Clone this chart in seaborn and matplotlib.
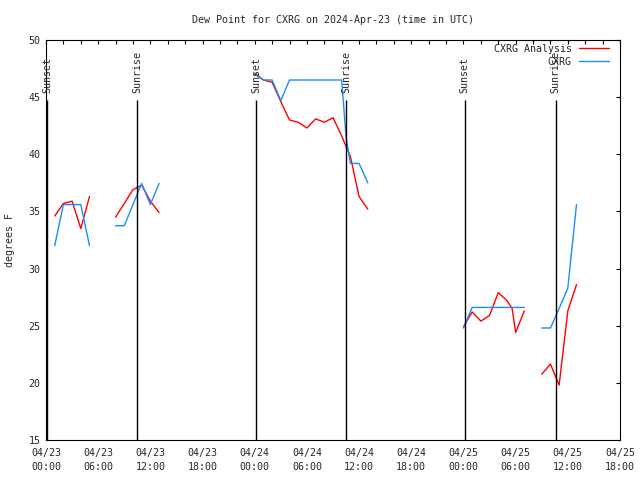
import pandas as pd
import numpy as np
import matplotlib
matplotlib.use('Agg')
import matplotlib.pyplot as plt
import seaborn as sns

# hours after 2024-04-23 00:00 UTC
analysis_hours = [[1, 2, 3, 4, 5],
                  [8, 9, 10, 11, 12, 13],
                  [24, 25, 26, 27, 28, 29, 30, 31, 32, 33, 34, 35, 36, 37],
                  [48, 49, 50, 51, 52, 53, 53.6, 54, 55],
                  [57, 58, 59, 60, 61]]
analysis_vals = [[34.6, 35.7, 35.9, 33.5, 36.3],
                 [34.5, 35.7, 36.9, 37.3, 35.9, 34.9],
                 [47.1, 46.5, 46.3, 44.6, 43.0, 42.8, 42.3, 43.1, 42.8, 43.2, 41.6, 39.8, 36.3, 35.2],
                 [24.9, 26.2, 25.4, 25.9, 27.9, 27.2, 26.5, 24.4, 26.3],
                 [20.75, 21.65, 19.8, 26.3, 28.6]]

obs_hours = [[1, 2, 3, 4, 5],
             [8, 9, 10, 11, 12, 13],
             [24, 25, 26, 27, 28, 29, 30, 31, 32, 33, 34, 34.5, 35, 36, 37],
             [48, 49, 50, 51, 52, 53, 54, 55],
             [57, 58, 59, 60, 61]]
obs_vals = [[32.0, 35.6, 35.6, 35.6, 32.0],
            [33.75, 33.75, 35.6, 37.45, 35.6, 37.45],
            [47.0, 46.5, 46.5, 44.7, 46.5, 46.5, 46.5, 46.5, 46.5, 46.5, 46.5, 41.5, 39.2, 39.2, 37.5],
            [24.8, 26.6, 26.6, 26.6, 26.6, 26.6, 26.6, 26.6],
            [24.8, 24.8, 26.5, 28.3, 35.6]]

sunset_hours = [0.17, 24.2, 48.15]
sunrise_hours = [10.5, 34.55, 58.6]

xtick_hours = list(range(0, 67, 6))
xtick_labels = ['04/23\n00:00', '04/23\n06:00', '04/23\n12:00', '04/23\n18:00',
                '04/24\n00:00', '04/24\n06:00', '04/24\n12:00', '04/24\n18:00',
                '04/25\n00:00', '04/25\n06:00', '04/25\n12:00', '04/25\n18:00']
ytick_vals = list(range(15, 51, 5))

rows = []
for name, hrs, vals in [('CXRG Analysis', analysis_hours, analysis_vals),
                        ('CXRG', obs_hours, obs_vals)]:
    for seg, (h, v) in enumerate(zip(hrs, vals)):
        for hh, vv in zip(h, v):
            rows.append({'series': name, 'seg': seg, 'hour': hh, 'dewpt': vv})
df = pd.DataFrame(rows)

sns.set_style('white')
plt.rcParams['font.family'] = ['DejaVu Sans Mono']
fs = 7.2

fig = plt.figure(figsize=(6.4, 4.8), dpi=100)
ax = fig.add_axes([46 / 640, 40 / 480, 574 / 640, 400 / 480])

sns.lineplot(data=df, x='hour', y='dewpt', hue='series', units='seg', estimator=None,
             palette={'CXRG Analysis': '#ff0000', 'CXRG': '#1a8cff'}, linewidth=1.0, ax=ax)

for h in sunset_hours:
    ax.vlines(h, 15, 44.75, color='black', linewidth=1.0)
    ax.text(h, 45.4, 'Sunset', rotation=90, ha='center', va='bottom', fontsize=fs)
for h in sunrise_hours:
    ax.vlines(h, 15, 44.75, color='black', linewidth=1.0)
    ax.text(h, 45.4, 'Sunrise', rotation=90, ha='center', va='bottom', fontsize=fs)

ax.set_xlim(0, 66)
ax.set_ylim(15, 50)
ax.set_xticks(xtick_hours)
ax.set_xticklabels(xtick_labels, fontsize=fs, linespacing=1.5)
ax.set_xticks(range(0, 67, 2), minor=True)
ax.set_yticks(ytick_vals)
ax.set_yticklabels([str(v) for v in ytick_vals], fontsize=fs)
ax.tick_params(which='both', direction='in', length=3, width=0.8, top=True, right=True, color='black')
ax.tick_params(axis='x', pad=6)
ax.tick_params(axis='y', pad=4)
for sp in ax.spines.values():
    sp.set_color('black')
    sp.set_linewidth(0.8)
ax.set_xlabel('')
ax.set_ylabel('')

ax.set_title('Dew Point for CXRG on 2024-Apr-23 (time in UTC)', fontsize=fs, pad=12)
fig.text(10 / 640, 0.5, 'degrees F', rotation=90, ha='center', va='center', fontsize=fs)

ax.legend(loc='upper right', bbox_to_anchor=(0.991, 1.006), frameon=False, markerfirst=False,
          fontsize=fs, handlelength=3, handletextpad=0.7, borderaxespad=0.2, labelspacing=0.3)

fig.savefig('out.png', dpi=100)
